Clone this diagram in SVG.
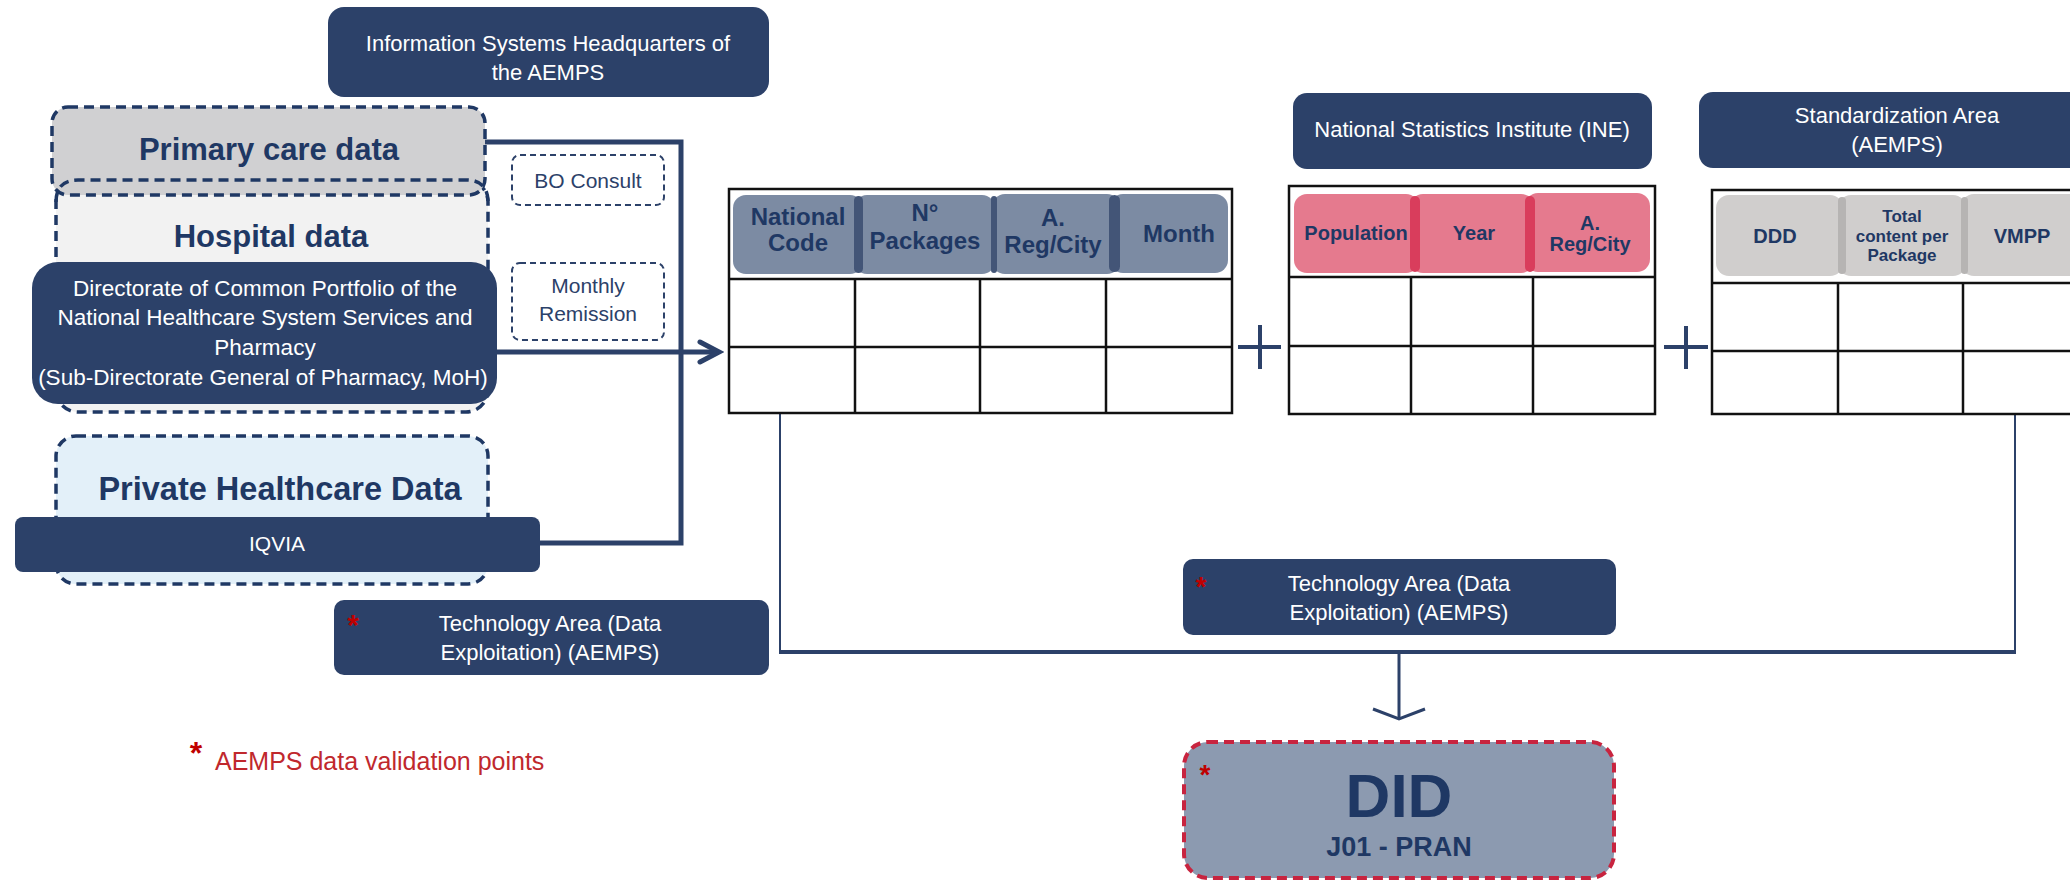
<svg xmlns="http://www.w3.org/2000/svg" width="2070" height="881" viewBox="0 0 2070 881">
<defs>
<style>
.nb{fill:#2c4169;}
.wt{fill:#ffffff;font-family:"Liberation Sans",Arial,sans-serif;font-size:22px;text-anchor:middle;}
.hd{fill:#1f3864;font-family:"Liberation Sans",Arial,sans-serif;font-weight:bold;font-size:31px;text-anchor:middle;}
.ph{fill:#1f3864;font-family:"Liberation Sans",Arial,sans-serif;font-weight:bold;text-anchor:middle;}
.dash{stroke:#1f3864;stroke-width:3.5;stroke-dasharray:10 6;}
.thin{fill:#ffffff;stroke:#2c4169;stroke-width:2;stroke-dasharray:6 4;}
.tbl{fill:#ffffff;stroke:#111111;stroke-width:2.5;}
.tl{stroke:#111111;stroke-width:2.5;fill:none;}
.con{fill:none;stroke:#2c4169;stroke-linejoin:miter;}
.ast{fill:#c00000;font-family:"Liberation Sans",Arial,sans-serif;font-weight:bold;}
.plus{stroke:#2c4169;stroke-width:4;fill:none;}
</style>
<marker id="arr" markerUnits="userSpaceOnUse" viewBox="0 0 30 30" refX="25" refY="15" markerWidth="30" markerHeight="30" orient="auto">
<path d="M6,5 L25,15 L6,25" fill="none" stroke="#2c4169" stroke-width="5" stroke-linecap="round" stroke-linejoin="miter"/>
</marker>
<marker id="arr2" markerUnits="userSpaceOnUse" viewBox="0 0 20 60" refX="16" refY="30" markerWidth="20" markerHeight="60" orient="auto">
<path d="M6,4 L16,30 L6,56" fill="none" stroke="#2c4169" stroke-width="3"/>
</marker>
</defs>
<rect width="2070" height="881" fill="#ffffff"/>

<!-- connectors -->
<g id="connectors">
<path class="con" stroke-width="5" d="M485,142 H681 V543 H540"/>
<path class="con" stroke-width="5" d="M497,352 H719" marker-end="url(#arr)"/>
<path class="con" stroke-width="2" d="M780,413 V652"/>
<path class="con" stroke-width="2" d="M2015,413 V652"/>
<path class="con" stroke-width="4" d="M779,652 H2016"/>
<path class="con" stroke-width="3" d="M1399,652 V719" marker-end="url(#arr2)"/>
<path class="plus" d="M1238,347 H1281 M1260,325 V369"/>
<path class="plus" d="M1664,347 H1708 M1686,326 V369"/>
</g>

<g id="info-systems">
<rect class="nb" x="328" y="7" width="441" height="90" rx="16"/>
<text class="wt" x="548" y="51">Information Systems Headquarters of</text>
<text class="wt" x="548" y="80">the AEMPS</text>
</g>

<g id="hospital-data">
<rect x="56" y="180" width="432" height="232" rx="22" fill="#f2f2f2" class="dash"/>
</g>

<g id="primary-care">
<rect x="52" y="107" width="433" height="88" rx="16" fill="#d0d0d2" class="dash"/>
<path d="M56,202 Q56,180 78,180 H466 Q488,180 488,202" fill="none" class="dash"/>
<text class="hd" x="269" y="160">Primary care data</text>
</g>

<g id="hospital-label">
<text class="hd" x="271" y="247">Hospital data</text>
</g>

<g id="directorate">
<rect class="nb" x="32" y="262" width="465" height="142" rx="26"/>
<text class="wt" style="font-size:22.5px" x="265" y="296">Directorate of Common Portfolio of the</text>
<text class="wt" style="font-size:22.5px" x="265" y="325">National Healthcare System Services and</text>
<text class="wt" style="font-size:22.5px" x="265" y="355">Pharmacy</text>
<text class="wt" style="font-size:22.5px" x="263" y="385">(Sub-Directorate General of Pharmacy, MoH)</text>
</g>

<g id="bo-consult">
<rect class="thin" x="512" y="155" width="152" height="50" rx="8"/>
<text class="wt" style="fill:#2c4169;font-size:21px" x="588" y="188">BO Consult</text>
</g>

<g id="monthly-remission">
<rect class="thin" x="512" y="263" width="152" height="77" rx="8"/>
<text class="wt" style="fill:#2c4169;font-size:21px" x="588" y="293">Monthly</text>
<text class="wt" style="fill:#2c4169;font-size:21px" x="588" y="321">Remission</text>
</g>

<g id="private-data">
<rect x="56" y="436" width="432" height="148" rx="20" fill="#e3f0f9" class="dash"/>
<text class="hd" style="font-size:32.5px" x="280" y="500">Private Healthcare Data</text>
</g>

<g id="iqvia">
<rect class="nb" x="15" y="517" width="525" height="55" rx="8"/>
<text class="wt" style="font-size:21px" x="277" y="551">IQVIA</text>
</g>

<g id="tech-area-1">
<rect class="nb" x="334" y="600" width="435" height="75" rx="10"/>
<text class="ast" style="font-size:30px" x="353" y="635" text-anchor="middle">*</text>
<text class="wt" x="550" y="631">Technology Area (Data</text>
<text class="wt" x="550" y="660">Exploitation) (AEMPS)</text>
</g>

<g id="table-1">
<rect class="tbl" x="729" y="189" width="503" height="224"/>
<path class="tl" d="M729,279 H1232 M729,347 H1232 M855,279 V413 M980,279 V413 M1106,279 V413"/>
<g fill="#7c8ba3">
<rect x="733" y="195" width="130" height="79" rx="13"/>
<rect x="854" y="195" width="141" height="79" rx="13"/>
<rect x="992" y="194" width="128" height="80" rx="13"/>
<rect x="1110" y="194" width="118" height="79" rx="13"/>
</g>
<g fill="#435577">
<rect x="854" y="196" width="9" height="77" rx="4.5"/>
<rect x="991" y="196" width="6" height="77" rx="3"/>
<rect x="1109" y="195" width="11" height="77" rx="5.5"/>
</g>
<text class="ph" style="font-size:24px" x="798" y="225">National</text>
<text class="ph" style="font-size:24px" x="798" y="251">Code</text>
<text class="ph" style="font-size:24px" x="925" y="221">N°</text>
<text class="ph" style="font-size:24px" x="925" y="249">Packages</text>
<text class="ph" style="font-size:24px" x="1053" y="226">A.</text>
<text class="ph" style="font-size:24px" x="1053" y="253">Reg/City</text>
<text class="ph" style="font-size:24px" x="1179" y="242">Month</text>
</g>

<g id="ine">
<rect class="nb" x="1293" y="93" width="359" height="76" rx="14"/>
<text class="wt" x="1472" y="137">National Statistics Institute (INE)</text>
</g>

<g id="table-2">
<rect class="tbl" x="1289" y="186" width="366" height="228"/>
<path class="tl" d="M1289,277 H1655 M1289,346 H1655 M1411,277 V414 M1533,277 V414"/>
<g fill="#e57a8e">
<rect x="1294" y="194" width="125" height="79" rx="13"/>
<rect x="1410" y="194" width="124" height="79" rx="13"/>
<rect x="1525" y="193" width="125" height="79" rx="13"/>
</g>
<g fill="#d93d5c">
<rect x="1410" y="196" width="10" height="76" rx="5"/>
<rect x="1525" y="196" width="10" height="76" rx="5"/>
</g>
<text class="ph" style="font-size:20px" x="1356" y="240">Population</text>
<text class="ph" style="font-size:20px" x="1474" y="240">Year</text>
<text class="ph" style="font-size:20px" x="1590" y="230">A.</text>
<text class="ph" style="font-size:20px" x="1590" y="251">Reg/City</text>
</g>

<g id="standardization">
<rect class="nb" x="1699" y="92" width="400" height="76" rx="14"/>
<text class="wt" x="1897" y="123">Standardization Area</text>
<text class="wt" x="1897" y="152">(AEMPS)</text>
</g>

<g id="table-3">
<rect class="tbl" x="1712" y="190" width="380" height="224"/>
<path class="tl" d="M1712,283 H2092 M1712,351 H2092 M1838,283 V414 M1963,283 V414"/>
<g fill="#d0cecd">
<rect x="1716" y="195" width="127" height="81" rx="13"/>
<rect x="1838" y="195" width="128" height="81" rx="13"/>
<rect x="1961" y="194" width="130" height="82" rx="13"/>
</g>
<g fill="#b6b4b3">
<rect x="1838" y="197" width="8" height="77" rx="4"/>
<rect x="1961" y="197" width="7" height="77" rx="3.5"/>
</g>
<text class="ph" style="font-size:20px" x="1775" y="243">DDD</text>
<text class="ph" style="font-size:17px" x="1902" y="222">Total</text>
<text class="ph" style="font-size:17px" x="1902" y="242">content per</text>
<text class="ph" style="font-size:17px" x="1902" y="261">Package</text>
<text class="ph" style="font-size:20px" x="2022" y="243">VMPP</text>
</g>

<g id="tech-area-2">
<rect class="nb" x="1183" y="559" width="433" height="76" rx="10"/>
<text class="ast" style="font-size:28px" x="1201" y="596" text-anchor="middle">*</text>
<text class="wt" x="1399" y="591">Technology Area (Data</text>
<text class="wt" x="1399" y="620">Exploitation) (AEMPS)</text>
</g>

<g id="did">
<rect x="1184" y="742" width="430" height="136" rx="24" fill="#8c9ab0" stroke="#c8243f" stroke-width="4" stroke-dasharray="10 6"/>
<text class="ast" style="font-size:28px" x="1205" y="784" text-anchor="middle">*</text>
<text class="ph" style="font-size:62px" x="1399" y="817">DID</text>
<text class="ph" style="font-size:27px" x="1399" y="856">J01 - PRAN</text>
</g>

<g id="legend">
<text class="ast" style="font-size:32px" x="196" y="764" text-anchor="middle">*</text>
<text x="215" y="770" fill="#c0282d" style="font-family:'Liberation Sans',Arial,sans-serif;font-size:25px">AEMPS data validation points</text>
</g>
</svg>
